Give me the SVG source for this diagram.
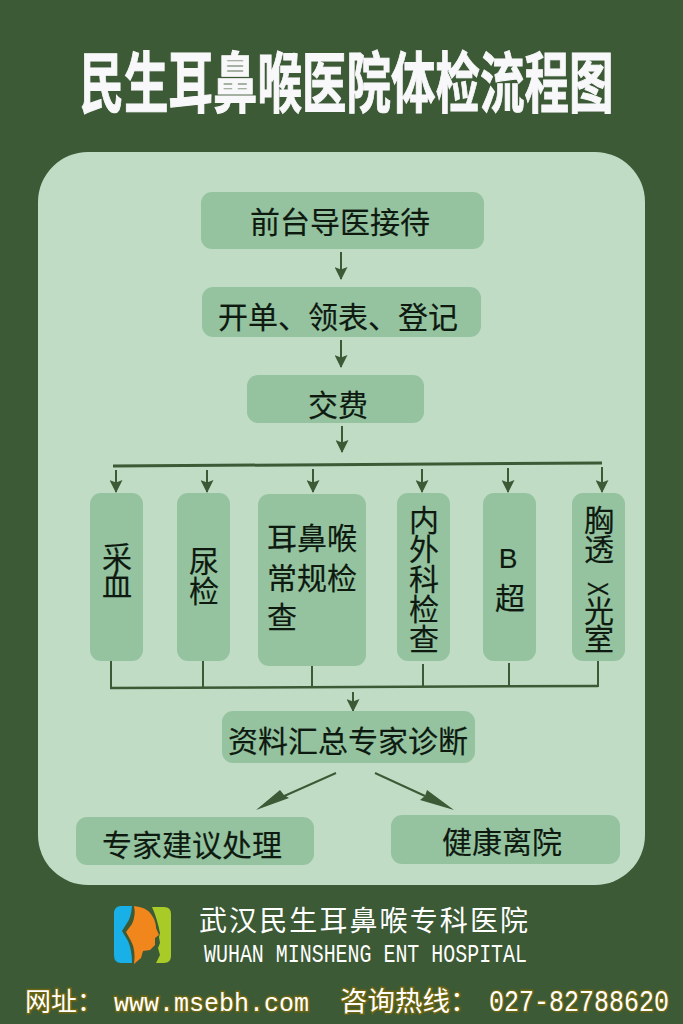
<svg xmlns="http://www.w3.org/2000/svg" width="683" height="1024" viewBox="0 0 683 1024">
<style>
.box{fill:#95c3a0}
.t{font-family:"Noto Sans CJK SC","Liberation Sans",sans-serif;font-size:30px;fill:#0e1a10;stroke:#0e1a10;stroke-width:.2;text-anchor:middle}
.c{fill:none;stroke:#3c5a35;stroke-width:2}
.a{fill:#3c5a35;stroke:none}
.cjk{font-family:"Noto Sans CJK SC",sans-serif}
.mono{font-family:"Liberation Mono","Noto Sans CJK SC",monospace}
.glow{fill:#fff;stroke:#6b6410;stroke-width:3;paint-order:stroke}
</style>
<defs>
<marker id="ah" markerUnits="userSpaceOnUse" markerWidth="13" markerHeight="13" refX="12" refY="6.5" orient="auto" viewBox="0 0 13 13"><path d="M0 0L2.5 6.5L0 13L13 6.5Z" fill="#3c5a35"/></marker>
</defs>
<rect width="683" height="1024" fill="#3c5a35"/>
<rect x="38" y="152" width="607" height="733" rx="50" fill="#c0dcc5"/>
<text class="cjk" x="346.5" y="107" font-size="66" font-weight="700" fill="#f8f8fa" stroke="#f8f8fa" stroke-width="1" text-anchor="middle" textLength="534" lengthAdjust="spacingAndGlyphs">民生耳鼻喉医院体检流程图</text>
<g id="connectors">
<path class="c" d="M341 252V279" marker-end="url(#ah)"/>
<path class="c" d="M341 340V367" marker-end="url(#ah)"/>
<path class="c" d="M342 426V452" marker-end="url(#ah)"/>
<path d="M113 466L602 463" fill="none" stroke="#3c5a35" stroke-width="3"/>
<path class="c" d="M116 470V492" marker-end="url(#ah)"/>
<path class="c" d="M207 470V492" marker-end="url(#ah)"/>
<path class="c" d="M313 469V492" marker-end="url(#ah)"/>
<path class="c" d="M422 469V492" marker-end="url(#ah)"/>
<path class="c" d="M508 468V492" marker-end="url(#ah)"/>
<path class="c" d="M602 467V492" marker-end="url(#ah)"/>
<path class="c" d="M111 661V688M203 661V688M312 666V688M423 664V686M509 663V686M598 661V687"/>
<path d="M110 688L598 686" fill="none" stroke="#3c5a35" stroke-width="2.5"/>
<path class="c" d="M353 692V711" marker-end="url(#ah)"/>
<path class="c" d="M336 773L282 797"/>
<path class="a" d="M256 810L280 790L284 795L289 798Z"/>
<path class="c" d="M375 773L425 796"/>
<path class="a" d="M454 810L427 790L425 796L420 800Z"/>
</g>
<g id="n1"><rect class="box" x="201" y="192" width="283" height="57" rx="11"/><text class="t" x="340" y="233">前台导医接待</text></g>
<g id="n2"><rect class="box" x="202" y="287" width="279" height="50" rx="11"/><text class="t" x="338" y="328">开单、领表、登记</text></g>
<g id="n3"><rect class="box" x="247" y="375" width="177" height="48" rx="11"/><text class="t" x="338" y="416">交费</text></g>
<g id="n4"><rect class="box" x="90" y="493" width="53" height="168" rx="11"/><text class="t" x="117" y="568">采</text><text class="t" x="117" y="596">血</text></g>
<g id="n5"><rect class="box" x="177" y="493" width="53" height="168" rx="11"/><text class="t" x="204" y="572">尿</text><text class="t" x="204" y="602">检</text></g>
<g id="n6"><rect class="box" x="258" y="494" width="108" height="172" rx="11"/><text class="t" x="312" y="549">耳鼻喉</text><text class="t" x="312" y="589">常规检</text><text class="t" x="282" y="628">查</text></g>
<g id="n7"><rect class="box" x="397" y="493" width="53" height="168" rx="11"/><text class="t" x="424" y="531">内</text><text class="t" x="424" y="560">外</text><text class="t" x="424" y="590">科</text><text class="t" x="424" y="620">检</text><text class="t" x="424" y="650">查</text></g>
<g id="n8"><rect class="box" x="483" y="493" width="53" height="168" rx="11"/><text class="t" x="508" y="568" style="font-family:'Liberation Sans',sans-serif;font-size:28px">B</text><text class="t" x="510" y="609">超</text></g>
<g id="n9"><rect class="box" x="572" y="493" width="53" height="168" rx="11"/><text class="t" x="599" y="531">胸</text><text class="t" x="599" y="560">透</text><text class="t" transform="translate(599 589) rotate(90) scale(.7 1)" x="0" y="10.5" style="font-family:'Liberation Sans',sans-serif;font-size:30px">X</text><text class="t" x="599" y="622">光</text><text class="t" x="599" y="650">室</text></g>
<g id="n10"><rect class="box" x="222" y="711" width="253" height="52" rx="11"/><text class="t" x="348" y="752">资料汇总专家诊断</text></g>
<g id="n11"><rect class="box" x="76" y="817" width="238" height="48" rx="11"/><text class="t" x="192" y="856">专家建议处理</text></g>
<g id="n12"><rect class="box" x="391" y="815" width="229" height="49" rx="11"/><text class="t" x="502" y="853">健康离院</text></g>
<g id="logo">
<path d="M121 906H132Q131 918 127 923L122 931L128 941Q132 950 132 963H121Q114 963 114 955V914Q114 906 121 906Z" fill="#18b0e6"/>
<path d="M134 906Q146 907 151 914Q156 921 156 928L159 935L155 938L155 945L150 950L143 951L141 958L134 964Q136 950 131 941L126 932L132 924Q136 915 134 906Z" fill="#f0861c"/>
<path d="M152 907H164Q171 907 171 914V956Q171 963 164 963H156L160 955L158 948L160 943L159 937L160 933Q157 918 152 907Z" fill="#a9cb27"/>
</g>
<g fill="#fff">
<text class="cjk" x="199" y="931" font-size="28" textLength="329" lengthAdjust="spacing">武汉民生耳鼻喉专科医院</text>
<text class="mono" x="204" y="962" font-size="26" textLength="323" lengthAdjust="spacingAndGlyphs">WUHAN MINSHENG ENT HOSPITAL</text>
<text class="cjk glow" x="25" y="1011" font-size="26">网址：</text>
<text class="mono glow" x="114" y="1011" font-size="25">www.msebh.com</text>
<text class="cjk glow" x="340" y="1011" font-size="27.5">咨询热线：</text>
<text class="mono glow" x="489" y="1011" font-size="30" textLength="180" lengthAdjust="spacingAndGlyphs">027-82788620</text>
</g>
</svg>
